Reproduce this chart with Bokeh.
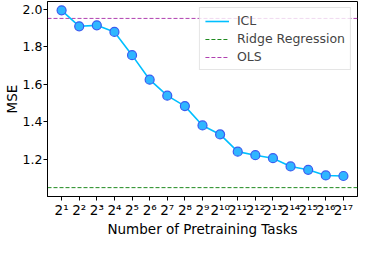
from bokeh.plotting import figure
from bokeh.models import Legend, LegendItem, FixedTicker, ColumnDataSource, Range1d
from bokeh.embed import file_html
from bokeh.resources import INLINE

exponents = list(range(1, 18))
icl_mse = [1.995, 1.910, 1.915, 1.880, 1.756, 1.625, 1.540, 1.484, 1.381, 1.333,
           1.241, 1.222, 1.206, 1.162, 1.144, 1.114, 1.111]
ridge_mse = 1.049
ols_mse = 1.952
y_ticks = [1.2, 1.4, 1.6, 1.8, 2.0]
y_tick_labels = {t: f"{t:.1f}" for t in y_ticks}
sup = str.maketrans("0123456789", "⁰¹²³⁴⁵⁶⁷⁸⁹")
x_tick_labels = {e: "2" + str(e).translate(sup) for e in exponents}

# matplotlib-like 5% margins
x_pad = 0.05 * (exponents[-1] - exponents[0])
x_lo, x_hi = exponents[0] - x_pad, exponents[-1] + x_pad
all_y = icl_mse + [ridge_mse, ols_mse]
y_pad = 0.05 * (max(all_y) - min(all_y))
y_lo, y_hi = min(all_y) - y_pad, max(all_y) + y_pad

FONT = "DejaVu Sans"

p = figure(width=358, height=239, output_backend="svg", toolbar_location=None,
           x_range=Range1d(x_lo, x_hi), y_range=Range1d(y_lo, y_hi),
           min_border_left=0, min_border_right=1, min_border_top=1, min_border_bottom=0)

p.xgrid.visible = False
p.ygrid.visible = False
p.outline_line_color = "black"
p.outline_line_width = 1

ridge_line = p.line([x_lo, x_hi], [ridge_mse, ridge_mse], line_color="#1f8a1f",
                    line_dash="4 2", line_width=1)
ols_line = p.line([x_lo, x_hi], [ols_mse, ols_mse], line_color="#b040b0",
                  line_dash="4 2", line_width=1)

src = ColumnDataSource(dict(x=exponents, y=icl_mse))
icl_line = p.line("x", "y", source=src, line_color="#00bfff", line_width=1.6)
p.scatter("x", "y", source=src, size=9, fill_color="#2fb6ff", line_color="#3a5cf0", line_width=1.2)

legend = Legend(items=[LegendItem(label="ICL", renderers=[icl_line]),
                       LegendItem(label="Ridge Regression", renderers=[ridge_line]),
                       LegendItem(label="OLS", renderers=[ols_line])],
                location="top_right")
legend.label_text_font = FONT
legend.label_text_font_size = "12.5px"
legend.glyph_width = 24
legend.glyph_height = 14
legend.label_height = 14
legend.spacing = 3
legend.padding = 5
legend.margin = 6
legend.label_standoff = 8
legend.border_line_color = "#cccccc"
legend.border_line_width = 1
legend.background_fill_alpha = 0.8
p.add_layout(legend)

p.xaxis.ticker = FixedTicker(ticks=exponents)
p.xaxis.major_label_overrides = x_tick_labels
p.yaxis.ticker = FixedTicker(ticks=y_ticks)
p.yaxis.major_label_overrides = y_tick_labels
p.xaxis.minor_tick_line_color = None
p.yaxis.minor_tick_line_color = None

for ax in (p.xaxis[0], p.yaxis[0]):
    ax.major_tick_in = 0
    ax.major_tick_out = 4
    ax.major_label_text_font = FONT
    ax.major_label_text_font_size = "12.5px"
    ax.major_label_text_color = "black"
    ax.axis_label_text_font = FONT
    ax.axis_label_text_font_size = "13.5px"
    ax.axis_label_text_font_style = "normal"
    ax.axis_label_text_color = "black"
    ax.major_label_standoff = 1
    ax.axis_label_standoff = 0
    ax.axis_line_color = "black"

p.xaxis.axis_label = "Number of Pretraining Tasks"
p.yaxis.axis_label = "MSE"
p.xaxis.major_label_text_font_size = "13.5px"

open("out.html", "w").write(file_html(p, INLINE))
